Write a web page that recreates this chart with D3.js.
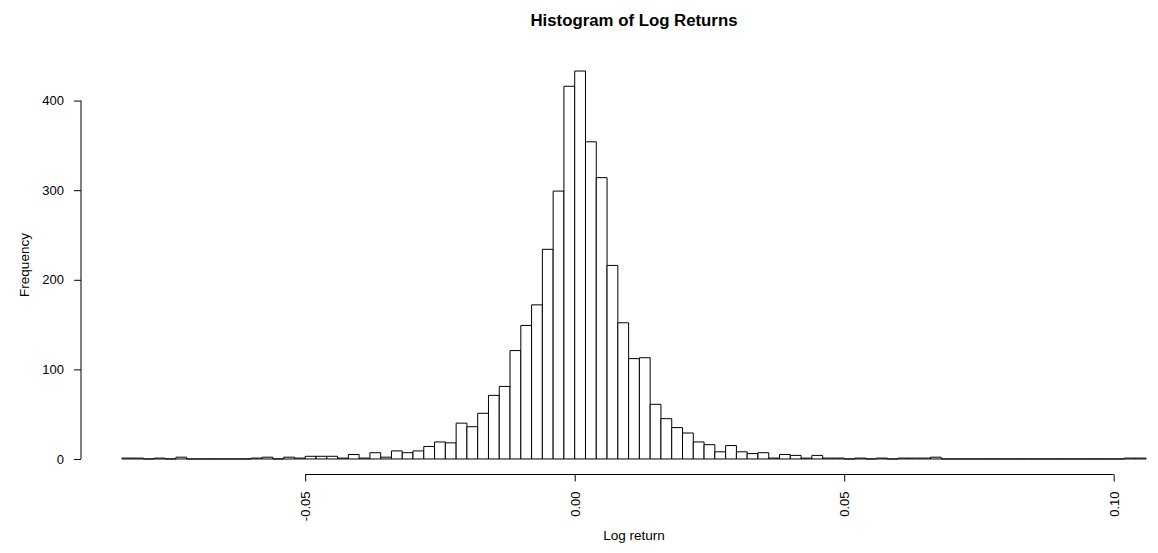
<!DOCTYPE html>
<html>
<head>
<meta charset="utf-8">
<script src="https://cdn.jsdelivr.net/npm/d3@7"></script>
<style>
  body { margin: 0; background: #fff; }
  svg { display: block; font-family: "Liberation Sans", Arial, sans-serif; }
</style>
</head>
<body>
<svg id="chart" width="1158" height="553"></svg>
<script>
// Histogram bins (R hist breaks): left edge of first bin and bin width
const firstBreak = -0.084;
const binWidth = 0.002;
// Frequencies per bin, left to right
const counts = [
  1, 1, 0, 1, 0, 2, 0, 0, 0, 0, 0, 0,        // -0.084 .. -0.062
  1, 2, 0, 2, 1, 3, 3, 3, 1, 5, 1, 7, 2,     // -0.060 .. -0.036
  9, 7, 9, 14, 19, 18, 40, 36, 51, 71, 81,   // -0.034 .. -0.014
  121, 149, 172, 234, 299, 416,              // -0.012 .. -0.002
  433, 354, 314, 216, 152, 112, 113, 61, 45, 35, // 0.000 .. 0.018
  29, 19, 16, 8, 15, 8, 6, 7, 1, 5, 4, 1, 4, // 0.020 .. 0.044
  1, 1, 0, 1, 0, 1, 0, 1, 1, 1, 2,           // 0.046 .. 0.066
  0, 0, 0, 0, 0, 0, 0, 0, 0, 0, 0, 0, 0, 0, 0, 0, 0, // 0.068 .. 0.100
  1, 1                                       // 0.102 .. 0.104
];
const xTicks = [-0.05, 0.00, 0.05, 0.10];
const xTickLabels = ["-0.05", "0.00", "0.05", "0.10"];
const yTicks = [0, 100, 200, 300, 400];
const yTickLabels = ["0", "100", "200", "300", "400"];
const titleText = "Histogram of Log Returns";
const xLabel = "Log return";
const yLabel = "Frequency";

const bins = counts.map((c, i) => ({
  x0: +(firstBreak + i * binWidth).toFixed(3),
  x1: +(firstBreak + (i + 1) * binWidth).toFixed(3),
  count: c
}));

const svg = d3.select("#chart");

// R-style 4% extension of the data range
const xmin = bins[0].x0, xmax = bins[bins.length - 1].x1;
const xpad = (xmax - xmin) * 0.04;
const ymax = d3.max(counts);
const ypad = ymax * 0.04;

const x = d3.scaleLinear().domain([xmin - xpad, xmax + xpad]).range([81, 1187]);
const y = d3.scaleLinear().domain([-ypad, ymax + ypad]).range([474.5, 55.5]);

// Bars (zero-count bins drawn as flat outlines, like R's rect)
svg.append("g")
  .selectAll("path")
  .data(bins)
  .join("path")
  .attr("d", d => {
    const x0 = x(d.x0), x1 = x(d.x1), y0 = y(0), y1 = y(d.count);
    return `M${x0},${y0}L${x0},${y1}L${x1},${y1}L${x1},${y0}Z`;
  })
  .attr("fill", "#fff")
  .attr("stroke", "#000")
  .attr("stroke-width", 1);

// Y axis
const yAxis = d3.axisLeft(y)
  .tickValues(yTicks)
  .tickFormat((d, i) => yTickLabels[i])
  .tickSize(7)
  .tickPadding(10);
const gy = svg.append("g").attr("transform", "translate(81,0)").call(yAxis);
gy.select(".domain").remove();
gy.append("line")
  .attr("x1", 0).attr("x2", 0)
  .attr("y1", y(yTicks[0])).attr("y2", y(yTicks[yTicks.length - 1]))
  .attr("stroke", "#000");
gy.selectAll("text").attr("font-size", 13).attr("fill", "#000")
  .attr("font-family", "Liberation Sans, Arial, sans-serif");
gy.selectAll(".tick line").attr("stroke", "#000");

// X axis
const xAxis = d3.axisBottom(x)
  .tickValues(xTicks)
  .tickFormat((d, i) => xTickLabels[i])
  .tickSize(7);
const gx = svg.append("g").attr("transform", "translate(0,474.5)").call(xAxis);
gx.select(".domain").remove();
gx.append("line")
  .attr("x1", x(xTicks[0])).attr("x2", x(xTicks[xTicks.length - 1]))
  .attr("y1", 0).attr("y2", 0)
  .attr("stroke", "#000");
gx.selectAll(".tick line").attr("stroke", "#000");
gx.selectAll("text")
  .attr("font-size", 13).attr("fill", "#000")
  .attr("font-family", "Liberation Sans, Arial, sans-serif")
  .attr("transform", "rotate(-90)")
  .attr("text-anchor", "end")
  .attr("x", -17)
  .attr("y", 0)
  .attr("dy", "0.35em");

// Title
svg.append("text")
  .attr("x", 634).attr("y", 26)
  .attr("text-anchor", "middle")
  .attr("font-size", 16.8).attr("font-weight", "bold")
  .text(titleText);

// Axis labels
svg.append("text")
  .attr("x", 634).attr("y", 540)
  .attr("text-anchor", "middle")
  .attr("font-size", 13.5)
  .text(xLabel);

svg.append("text")
  .attr("transform", "translate(29,265) rotate(-90)")
  .attr("text-anchor", "middle")
  .attr("font-size", 13.5)
  .text(yLabel);
</script>
</body>
</html>
